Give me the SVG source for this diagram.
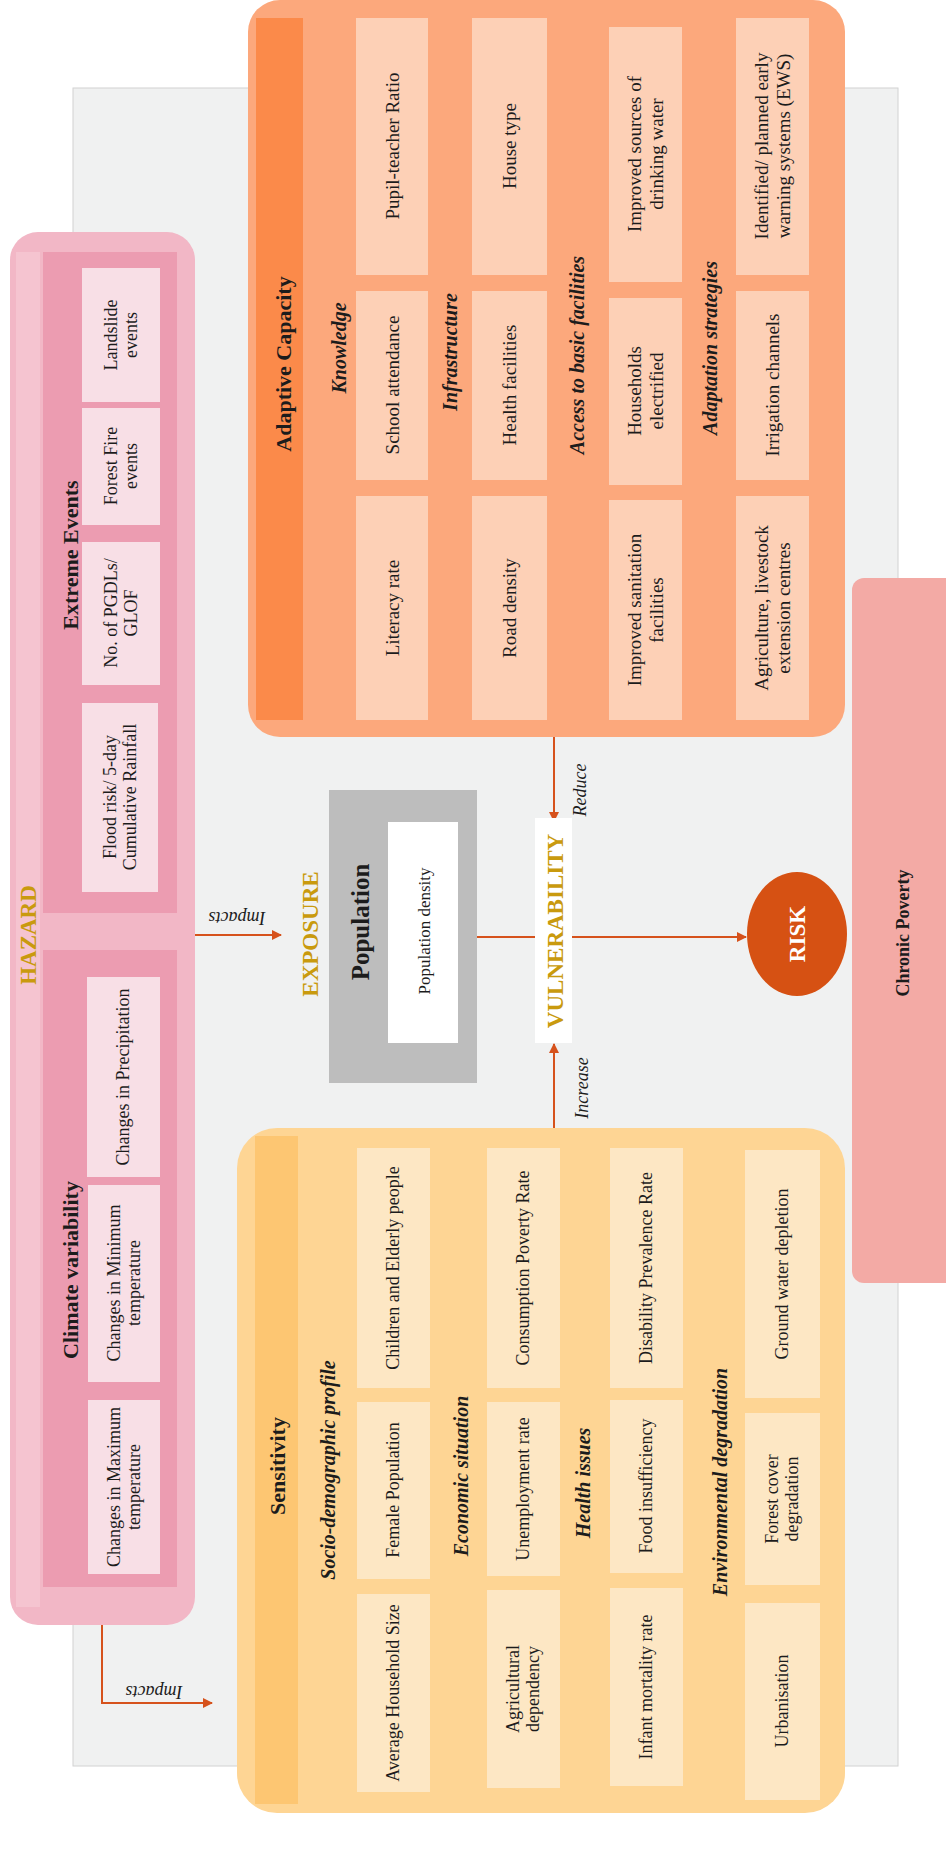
<svg xmlns="http://www.w3.org/2000/svg" width="946" height="1870" viewBox="0 0 946 1870">
<defs>
<style>
.t{font-family:"Liberation Serif","DejaVu Serif",serif;text-anchor:middle;dominant-baseline:central;fill:#1c1c1c}
.bx{font-size:18px}
.ab{font-size:19px}
.ttl{font-size:22px;font-weight:bold}
.sub{font-size:20px;font-weight:bold;font-style:italic}
.gold{font-size:23px;font-weight:bold;fill:#c99a0e}
.lbl{font-size:18px;font-style:italic}
.hz{fill:#f8dfe6}
.sn{fill:#fde7c4}
.ad{fill:#fdd0b6}
.ln{stroke:#d6521c;stroke-width:2;fill:none}
</style>
<marker id="ah" viewBox="0 0 10 10" refX="9" refY="5" markerWidth="5" markerHeight="5" orient="auto" markerUnits="strokeWidth">
<path d="M0,0 L10,5 L0,10 z" fill="#d6521c"/>
</marker>
</defs>
<rect x="0" y="0" width="946" height="1870" fill="#ffffff"/>
<g id="background-panel">
<rect x="73" y="88" width="825" height="1678" fill="#f0f1f1" stroke="#d2d2d2" stroke-width="1"/>
</g>
<g id="chronic-poverty">
<rect x="852" y="578" width="110" height="705" rx="12" fill="#f3aaa5"/>
<text class="t" style="font-size:18px;font-weight:bold" transform="translate(903,933) rotate(-90)">Chronic Poverty</text>
</g>
<g id="hazard">
<rect x="10" y="232" width="185" height="1393" rx="28" fill="#f2b7c6"/>
<rect x="16" y="252" width="24" height="1355" fill="#f5c4d0"/>
<rect x="43" y="252" width="134" height="661" fill="#ec9cb1"/>
<rect x="43" y="950" width="134" height="637" fill="#ec9cb1"/>
<text class="t gold" transform="translate(28,935) rotate(-90)">HAZARD</text>
<text class="t ttl" transform="translate(70,555) rotate(-90)">Extreme Events</text>
<text class="t ttl" transform="translate(70,1270) rotate(-90)">Climate variability</text>
<rect class="hz" x="82" y="268" width="78" height="134"/>
<text class="t bx" transform="translate(121,335) rotate(-90)"><tspan x="0" y="-10">Landslide</tspan><tspan x="0" y="10">events</tspan></text>
<rect class="hz" x="82" y="408" width="78" height="117"/>
<text class="t bx" transform="translate(121,466) rotate(-90)"><tspan x="0" y="-10">Forest Fire</tspan><tspan x="0" y="10">events</tspan></text>
<rect class="hz" x="82" y="542" width="78" height="143"/>
<text class="t bx" transform="translate(121,613) rotate(-90)"><tspan x="0" y="-10">No. of PGDLs/</tspan><tspan x="0" y="10">GLOF</tspan></text>
<rect class="hz" x="82" y="703" width="76" height="189"/>
<text class="t bx" transform="translate(120,797) rotate(-90)"><tspan x="0" y="-10">Flood risk/ 5-day</tspan><tspan x="0" y="10">Cumulative Rainfall</tspan></text>
<rect class="hz" x="87" y="977" width="73" height="200"/>
<text class="t bx" transform="translate(123,1077) rotate(-90)">Changes in Precipitation</text>
<rect class="hz" x="88" y="1185" width="72" height="197"/>
<text class="t bx" transform="translate(124,1283) rotate(-90)"><tspan x="0" y="-10">Changes in Minimum</tspan><tspan x="0" y="10">temperature</tspan></text>
<rect class="hz" x="88" y="1400" width="72" height="174"/>
<text class="t bx" transform="translate(124,1487) rotate(-90)"><tspan x="0" y="-10">Changes in Maximum</tspan><tspan x="0" y="10">temperature</tspan></text>
</g>
<g id="adaptive-capacity">
<rect x="248" y="0" width="597" height="737" rx="32" fill="#fca87c"/>
<rect x="256" y="18" width="47" height="702" fill="#fb8a4a"/>
<text class="t ttl" transform="translate(283,364) rotate(-90)">Adaptive Capacity</text>
<text class="t sub" transform="translate(339,348) rotate(-90)">Knowledge</text>
<text class="t sub" transform="translate(450,352) rotate(-90)">Infrastructure</text>
<text class="t sub" transform="translate(577,355) rotate(-90)">Access to basic facilities</text>
<text class="t sub" transform="translate(710,348) rotate(-90)">Adaptation strategies</text>
<rect class="ad" x="356" y="18" width="72" height="257"/>
<text class="t ab" transform="translate(392,146) rotate(-90)">Pupil-teacher Ratio</text>
<rect class="ad" x="356" y="291" width="72" height="189"/>
<text class="t ab" transform="translate(392,385) rotate(-90)">School attendance</text>
<rect class="ad" x="356" y="496" width="72" height="224"/>
<text class="t ab" transform="translate(392,608) rotate(-90)">Literacy rate</text>
<rect class="ad" x="472" y="18" width="75" height="257"/>
<text class="t ab" transform="translate(509,146) rotate(-90)">House type</text>
<rect class="ad" x="472" y="291" width="75" height="189"/>
<text class="t ab" transform="translate(509,385) rotate(-90)">Health facilities</text>
<rect class="ad" x="472" y="496" width="75" height="224"/>
<text class="t ab" transform="translate(509,608) rotate(-90)">Road density</text>
<rect class="ad" x="609" y="27" width="73" height="255"/>
<text class="t ab" transform="translate(645,154) rotate(-90)"><tspan x="0" y="-11">Improved sources of</tspan><tspan x="0" y="11">drinking water</tspan></text>
<rect class="ad" x="609" y="298" width="73" height="187"/>
<text class="t ab" transform="translate(645,391) rotate(-90)"><tspan x="0" y="-11">Households</tspan><tspan x="0" y="11">electrified</tspan></text>
<rect class="ad" x="609" y="500" width="73" height="220"/>
<text class="t ab" transform="translate(645,610) rotate(-90)"><tspan x="0" y="-11">Improved sanitation</tspan><tspan x="0" y="11">facilities</tspan></text>
<rect class="ad" x="736" y="18" width="73" height="257"/>
<text class="t ab" transform="translate(772,146) rotate(-90)"><tspan x="0" y="-11">Identified/ planned early</tspan><tspan x="0" y="11">warning systems (EWS)</tspan></text>
<rect class="ad" x="736" y="291" width="73" height="189"/>
<text class="t ab" transform="translate(772,385) rotate(-90)">Irrigation channels</text>
<rect class="ad" x="736" y="496" width="73" height="224"/>
<text class="t ab" transform="translate(772,608) rotate(-90)"><tspan x="0" y="-11">Agriculture, livestock</tspan><tspan x="0" y="11">extension centres</tspan></text>
</g>
<g id="exposure">
<text class="t gold" transform="translate(310,934) rotate(-90)">EXPOSURE</text>
<rect x="329" y="790" width="148" height="293" fill="#bdbdbd"/>
<rect x="388" y="822" width="70" height="221" fill="#ffffff"/>
<text class="t" style="font-size:25px;font-weight:bold" transform="translate(360,922) rotate(-90)">Population</text>
<text class="t" style="font-size:17px" transform="translate(424,931) rotate(-90)">Population density</text>
</g>
<g id="sensitivity">
<rect x="237" y="1128" width="608" height="685" rx="40" fill="#fed594"/>
<rect x="255" y="1136" width="43" height="668" fill="#fdc672"/>
<text class="t ttl" transform="translate(277,1466) rotate(-90)">Sensitivity</text>
<text class="t sub" transform="translate(328,1470) rotate(-90)">Socio-demographic profile</text>
<text class="t sub" transform="translate(461,1476) rotate(-90)">Economic situation</text>
<text class="t sub" transform="translate(583,1483) rotate(-90)">Health issues</text>
<text class="t sub" transform="translate(720,1482) rotate(-90)">Environmental degradation</text>
<rect class="sn" x="357" y="1148" width="73" height="240"/>
<text class="t bx" transform="translate(393,1268) rotate(-90)">Children and Elderly people</text>
<rect class="sn" x="357" y="1402" width="73" height="177"/>
<text class="t bx" transform="translate(393,1490) rotate(-90)">Female Population</text>
<rect class="sn" x="357" y="1594" width="73" height="198"/>
<text class="t bx" transform="translate(393,1693) rotate(-90)">Average Household Size</text>
<rect class="sn" x="487" y="1148" width="73" height="240"/>
<text class="t bx" transform="translate(523,1268) rotate(-90)">Consumption Poverty Rate</text>
<rect class="sn" x="487" y="1402" width="73" height="174"/>
<text class="t bx" transform="translate(523,1489) rotate(-90)">Unemployment rate</text>
<rect class="sn" x="487" y="1590" width="73" height="198"/>
<text class="t bx" transform="translate(523,1689) rotate(-90)"><tspan x="0" y="-10">Agricultural</tspan><tspan x="0" y="10">dependency</tspan></text>
<rect class="sn" x="610" y="1148" width="73" height="240"/>
<text class="t bx" transform="translate(646,1268) rotate(-90)">Disability Prevalence Rate</text>
<rect class="sn" x="610" y="1400" width="73" height="173"/>
<text class="t bx" transform="translate(646,1486) rotate(-90)">Food insufficiency</text>
<rect class="sn" x="610" y="1588" width="73" height="198"/>
<text class="t bx" transform="translate(646,1687) rotate(-90)">Infant mortality rate</text>
<rect class="sn" x="745" y="1150" width="75" height="248"/>
<text class="t bx" transform="translate(782,1274) rotate(-90)">Ground water depletion</text>
<rect class="sn" x="745" y="1413" width="75" height="172"/>
<text class="t bx" transform="translate(782,1499) rotate(-90)"><tspan x="0" y="-10">Forest cover</tspan><tspan x="0" y="10">degradation</tspan></text>
<rect class="sn" x="745" y="1603" width="75" height="197"/>
<text class="t bx" transform="translate(782,1701) rotate(-90)">Urbanisation</text>
</g>
<g id="connectors">
<line class="ln" x1="195" y1="935" x2="281" y2="935" marker-end="url(#ah)"/>
<path class="ln" d="M102,1625 V1703 H212" marker-end="url(#ah)"/>
<line class="ln" x1="554" y1="737" x2="554" y2="821" marker-end="url(#ah)"/>
<line class="ln" x1="554" y1="1128" x2="554" y2="1044" marker-end="url(#ah)"/>
<line class="ln" x1="477" y1="937" x2="535" y2="937"/>
<line class="ln" x1="572" y1="937" x2="746" y2="937" marker-end="url(#ah)"/>
<text class="t lbl" transform="translate(237,918) rotate(180)">Impacts</text>
<text class="t lbl" transform="translate(154,1692) rotate(180)">Impacts</text>
<text class="t lbl" transform="translate(580,790) rotate(-90)">Reduce</text>
<text class="t lbl" transform="translate(582,1088) rotate(-90)">Increase</text>
</g>
<g id="vulnerability">
<rect x="535" y="818" width="37" height="225" fill="#ffffff"/>
<text class="t gold" transform="translate(555,931) rotate(-90)">VULNERABILITY</text>
</g>
<g id="risk">
<ellipse cx="797" cy="934" rx="50" ry="62" fill="#d65113"/>
<text class="t" style="font-size:23px;font-weight:bold;fill:#ffffff" transform="translate(797,934) rotate(-90)">RISK</text>
</g>
</svg>
